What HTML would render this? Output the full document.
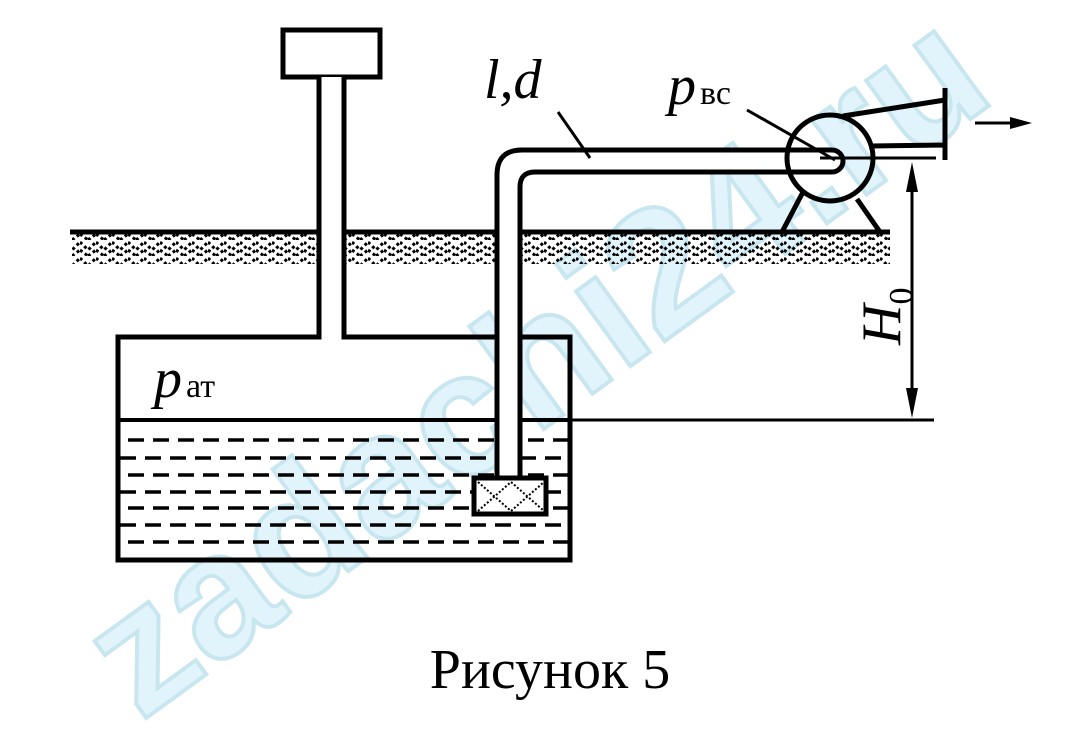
<!DOCTYPE html>
<html><head><style>html,body{margin:0;background:#fff;overflow:hidden;width:1083px;height:747px}svg{display:block}</style></head>
<body>
<svg width="1083" height="747" viewBox="0 0 1083 747" xmlns="http://www.w3.org/2000/svg">
<defs>
<pattern id="h" width="16" height="16" patternUnits="userSpaceOnUse">
<path d="M0 2l8 8 8-8M0 10l8 6M8 16l8-6" stroke="#000" stroke-width="3" stroke-dasharray="3 3" fill="none"/>
</pattern>
</defs>
<text x="540" y="420" font-family="Liberation Sans,sans-serif" font-weight="bold" font-size="175" fill="#e2f4fb" stroke="#c8e6f0" stroke-width="4" transform="rotate(-36 540 370)" text-anchor="middle">zadachi24.ru</text>
<g stroke="#000" fill="none" stroke-width="5">
<rect x="72" y="234" width="818" height="30" fill="url(#h)" stroke="none"/>
<line x1="70" y1="232" x2="890" y2="232"/>
<rect x="283" y="30" width="97" height="47" fill="#fff"/>
<rect x="319" y="77" width="25" height="270" fill="#fff" stroke="none"/>
<path d="M319 77V337H118V560H570V337H344V77"/>
<line x1="118" y1="420" x2="570" y2="420" stroke-width="4"/>
<g stroke-width="3.5" stroke-dasharray="16 9">
<line x1="120" y1="440" x2="570" y2="440" stroke-dashoffset="-8"/>
<line x1="120" y1="458" x2="570" y2="458"/>
<line x1="120" y1="475" x2="570" y2="475" stroke-dashoffset="-8"/>
<line x1="120" y1="492" x2="570" y2="492"/>
<line x1="120" y1="508" x2="570" y2="508" stroke-dashoffset="-8"/>
<line x1="120" y1="525" x2="570" y2="525"/>
<line x1="120" y1="542" x2="570" y2="542" stroke-dashoffset="-8"/>
</g>
<rect x="500" y="160" width="18" height="320" fill="#fff" stroke="none"/>
<path d="M497 478V175Q497 150 522 150H832A11 11 0 0 1 832 172H535Q520 172 520 187V478" fill="#fff"/>
<rect x="474" y="478" width="72" height="36" fill="#fff"/>
<path d="M478 482l33 29 33-29M478 511l33-29 33 29" stroke-width="2" stroke-dasharray="2 2"/>
<circle cx="830" cy="158" r="43"/>
<path d="M843 116L945 100M871 146L945 145M945 88V160M803 192L782 232M857 199L880 232"/>
<line x1="820" y1="158" x2="936" y2="158" stroke-width="3"/>
<line x1="747" y1="110" x2="835" y2="160" stroke-width="3"/>
<line x1="558" y1="112" x2="590" y2="158" stroke-width="3"/>
<line x1="570" y1="420" x2="934" y2="420" stroke-width="3"/>
<line x1="912" y1="175" x2="912" y2="405" stroke-width="3"/>
<line x1="975" y1="123" x2="1015" y2="123" stroke-width="3"/>
</g>
<path d="M912 162l-6 30h12zM912 418l-6-30h12zM1032 123l-22-6v12z" fill="#000"/>
<g font-family="Liberation Serif,serif" fill="#000">
<text x="484" y="98" font-size="56" font-style="italic">l,d</text>
<text x="668" y="104" font-size="56" font-style="italic">p</text><text x="700" y="104" font-size="34">вс</text>
<text x="154" y="397" font-size="56" font-style="italic">p</text><text x="186" y="397" font-size="34">ат</text>
<text transform="translate(900 345) rotate(-90)" font-size="56" font-style="italic">H<tspan font-size="34" font-style="normal" dy="12">0</tspan></text>
<text x="550" y="688" font-size="56" text-anchor="middle">Рисунок 5</text>
</g>
</svg>
</body></html>
